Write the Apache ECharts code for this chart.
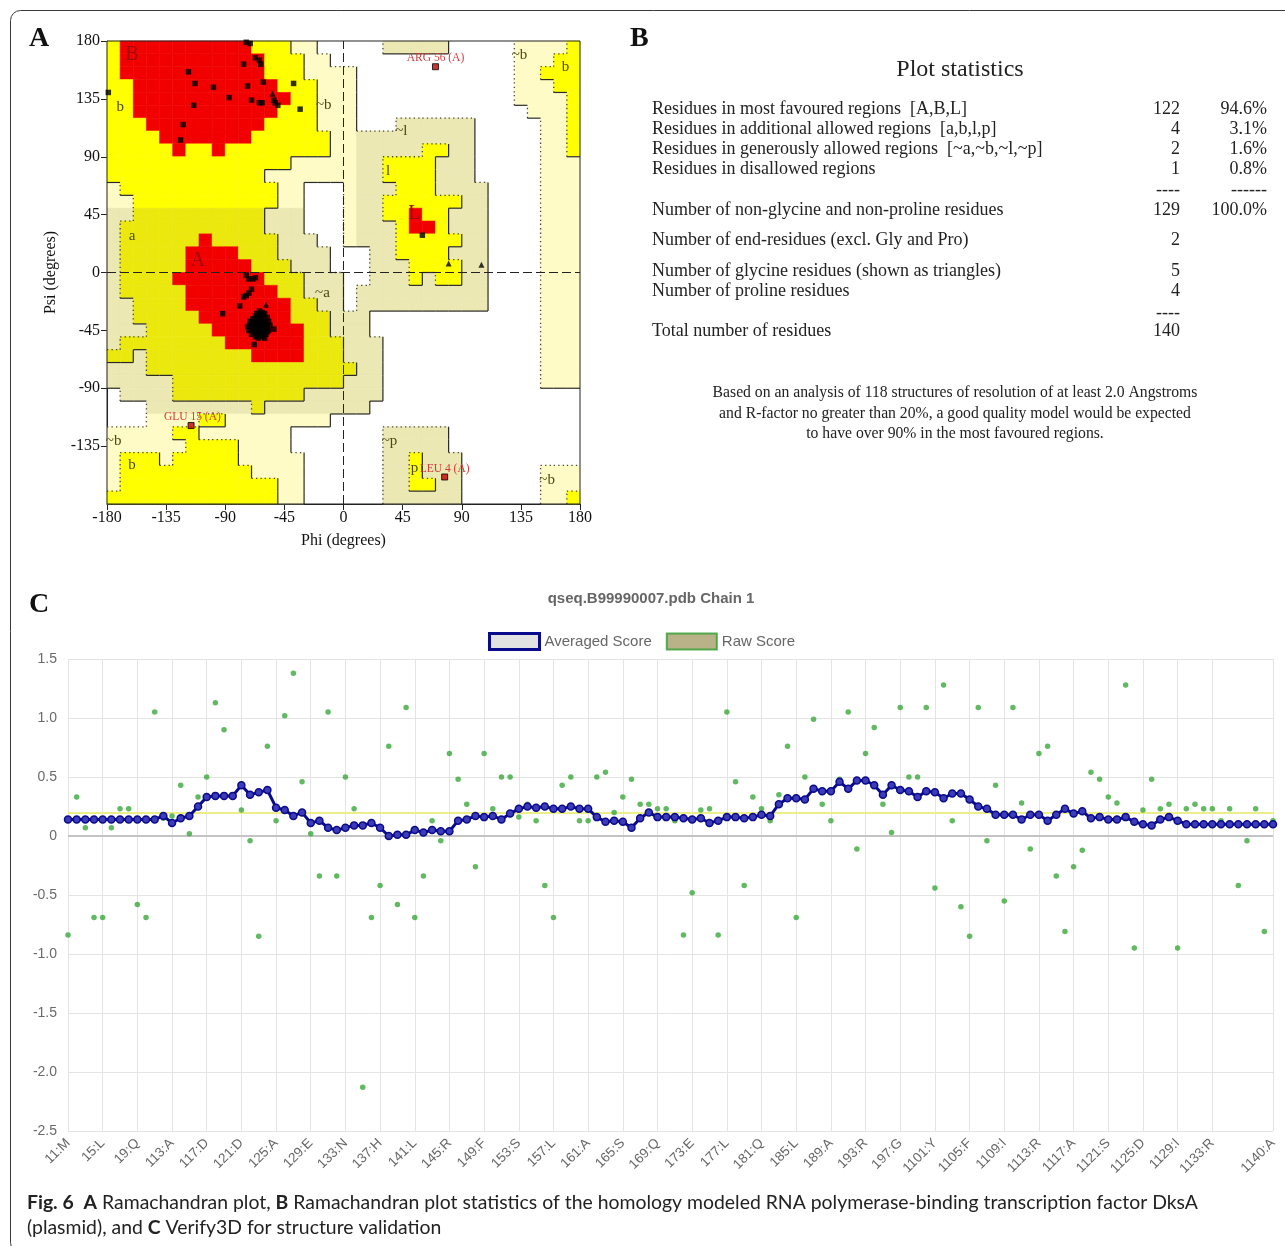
<!DOCTYPE html>
<html>
<head>
<meta charset="utf-8">
<title>Ramachandran plot and Verify3D profile</title>
<script src="https://cdn.jsdelivr.net/npm/echarts/dist/echarts.min.js"></script>
<style>
  html, body { margin: 0; padding: 0; background: #ffffff; }
  #main { width: 1285px; height: 1246px; }
</style>
</head>
<body>
<div id="main"></div>
<script>
// ---------------- Panel A: Ramachandran plot ----------------
// Region map, 10-degree cells. Row 0 is psi 170..180, column 0 is phi -180..-170.
// R = most favoured, Y/y = additional allowed, C/H = generously allowed, W = disallowed
const ramaRegionRows = [
  "YRRRRRRRRRRYYYCCWWWWWHHHHHWWWWWCCCCY",
  "YRRRRRRRRRRRYYYCCWWWWWWWWWWWWWWCCCYY",
  "YRRRRRRRRRRRYYYCCCCWWWWWWWWWWWWCCYYY",
  "YYRRRRRRRRRRRYYYCCCWWWWWWWWWWWWCCCYY",
  "YYRRRRRRRRRRRRYYCCCWWWWWWWWWWWWCCCCY",
  "YYRRRRRRRRRRRYYYCCCWWWWWWWWWWWWWCCCY",
  "YYYRRRRRRRRRYYYYCCCWWWHHHHHHWWWWWCCY",
  "YYYYRRRRRRRYYYYYYCCHHHHHHHHHWWWWWCCY",
  "YYYYYRYYRYYYYYYYYCCHHHHHYYHHWWWWWCCY",
  "YYYYYYYYYYYYYYCCCCCHHYYYYHHHWWWWWCCC",
  "YYYYYYYYYYYYCCCCCCCHHYYYYHHHWWWWWCCC",
  "CYYYYYYYYYYYYCCWWWCHHHYYYHHHHWWWWCCC",
  "CCYYYYYYYYYYYCCWWWCHHYYYYYYHHWWWWCCC",
  "HHyyyyyyyyyyHHHWWWCHHYYRYYHHHWWWWCCC",
  "HyyyyyyyyyyyHHHWWWCHHHYRRYHHHWWWWCCC",
  "HyyyyyyRyyyyyHHHWWCHHHYYYYYHHWWWWCCC",
  "HyyyyyRRRRyyyHHHHWWWHHYYYYHHHWWWWCCC",
  "HyyyyyRRRRRyyyHHHWWWHHHYYYYHHWWWWCCC",
  "HyyyyRRRRRRRyyyHHHWWHHHYHYYHHWWWWCCC",
  "HyyyyyRRRRRRRyyHHHWHHHHHHHHHHWWWWCCC",
  "HHyyyyRRRRRRRRyyHHWHHHHHHHHHHWWWWCCC",
  "HHyyyyyRRRRRRRyyyHHHWWWWWWWWWWWWWCCC",
  "HHHyyyyyRRRRRRRyyHHHWWWWWWWWWWWWWCCC",
  "HyyyyyyyyRRRRRRyyyHHHWWWWWWWWWWWWCCC",
  "yyHyyyyyyyyRRRRyyyHHHWWWWWWWWWWWWCCC",
  "HHHyyyyyyyyyyyyyyyyHHWWWWWWWWWWWWCCC",
  "HHHHHyyyyyyyyyyyyyHHHWWWWWWWWWWWWCCC",
  "WHHHHyyyyyyyyyyHHHHHHWWWWWWWWWWWWWWW",
  "WWWHHHHHHHHyHHHHHHHHWWWWWWWWWWWWWWWW",
  "WWWCCCCYYCCCCCCCCWWWWWWWWWWWWWWWWWWW",
  "CCCCCYYCCCCCCCWWWWWWWHHHHHWWWWWWWWWW",
  "CCCCCCYYYYCCCCWWWWWWWHHHHHWWWWWWWWWW",
  "CYYYCYYYYYCCCCCWWWWWWHHYHHHWWWWWWWWW",
  "CYYYYYYYYYYCCCCWWWWWWHHYHHHWWWWWWCCC",
  "CYYYYYYYYYYYYCCWWWWWWHHYYHHWWWWWWCCC",
  "YYYYYYYYYYYYYCCWWWWWWHHHHHHWWWWWWCCY"
];
const regionCodes = "RYyCH";
const regionFill = ["#f20000", "#ffff00", "#ebe80e", "#fffbc6", "#ebe8b3"];
const regionLevel = { R: 3, Y: 2, y: 2, C: 1, H: 1, W: 0 };

// Residues (phi, psi) plotted as squares
const residuePoints = [
  [-74, 179], [-71, 178], [-67, 167], [-64, 165], [-63, 162], [-76, 162],
  [-118, 156], [-113, 147], [-99, 144], [-73, 145], [-61, 148], [-38, 147],
  [-179, 140], [-87, 136], [-70, 134], [-64, 132], [-62, 132], [-53, 134],
  [-52, 132], [-50, 130], [-33, 127], [-114, 130], [-122, 115], [-124, 103],
  [-74, -2], [-72, -5], [-69, -5], [-67, -4], [-70, -13], [-72, -16],
  [-74, -18], [-76, -19], [-79, -26], [-92, -32], [-53, -44], [-68, -56],
  [-64, -30], [-62, -31], [-66, -32], [-60, -32], [-63, -33], [-67, -34],
  [-61, -34], [-65, -35], [-58, -35], [-69, -36], [-63, -36], [-60, -37],
  [-66, -37], [-71, -38], [-57, -38], [-64, -38], [-68, -39], [-62, -39],
  [-59, -40], [-65, -40], [-70, -41], [-67, -41], [-61, -41], [-56, -41],
  [-73, -42], [-64, -42], [-58, -42], [-66, -43], [-62, -43], [-69, -44],
  [-60, -44], [-72, -45], [-65, -45], [-57, -45], [-63, -46], [-68, -46],
  [-61, -47], [-66, -47], [-70, -48], [-59, -48], [-64, -49], [-67, -50],
  [-62, -50], [-65, -51], [-60, -51], [-63, -40], [-66, -39], [-60, -39],
  [-68, -42], [-59, -43], [-65, -43], [-62, -45], [-67, -44], [-70, -43],
  [-63, -44], [-61, -36], [-64, -34], [-67, -36], [-62, -48], [-66, -49],
  [-58, -46], [-71, -40],
  [60, 29]
];
// Glycine residues (triangles)
const glycinePoints = [[-54, 139], [-59, -25], [80, 7], [105, 6]];
// Residues outside the allowed regions, labelled on the plot
const flaggedNames = ["ARG 56 (A)", "GLU 15 (A)", "LEU 4 (A)"];
const flaggedPhi = [70, -116, 77];
const flaggedPsi = [160, -119, -159];
const flaggedLabelPos = [[70, 167], [-115, -112], [77, -153]];

// Region letters
const regionLabelText = ["B", "b", "~b", "~l", "l", "L", "A", "a", "~a", "~b", "b", "~p", "p", "~b", "~b", "b"];
const regionLabelPos = [
  [-161, 169], [-170, 129], [-15, 130], [44, 110], [34, 79], [54, 46],
  [-111, 9], [-161, 28], [-16, -16], [-175, -131], [-161, -150],
  [35, -131], [54, -152], [155, -161], [134, 169], [169, 160]
];
const regionLabelMajor = ["B", "A", "L"];

// ---------------- Panel C: Verify3D profile ----------------
const residueNumbers = [];
for (let i = 1; i <= 140; i++) residueNumbers.push(String(i));
const tickResidues = [1, 5, 9, 13, 17, 21, 25, 29, 33, 37, 41, 45, 49, 53, 57, 61, 65, 69, 73, 77,
  81, 85, 89, 93, 97, 101, 105, 109, 113, 117, 121, 125, 129, 133, 140];
const tickNames = ["11:M", "15:L", "19:Q", "113:A", "117:D", "121:D", "125:A", "129:E", "133:N",
  "137:H", "141:L", "145:R", "149:F", "153:S", "157:L", "161:A", "165:S", "169:Q", "173:E",
  "177:L", "181:Q", "185:L", "189:A", "193:R", "197:G", "1101:Y", "1105:F", "1109:I", "1113:R",
  "1117:A", "1121:S", "1125:D", "1129:I", "1133:R", "1140:A"];
const rawScore = [
  -0.84, 0.33, 0.07, -0.69, -0.69, 0.07, 0.23, 0.23, -0.58, -0.69,
  1.05, 0.15, 0.17, 0.43, 0.02, 0.33, 0.50, 1.13, 0.90, 0.35,
  0.22, -0.04, -0.85, 0.76, 0.13, 1.02, 1.38, 0.46, 0.02, -0.34,
  1.05, -0.34, 0.50, 0.23, -2.13, -0.69, -0.42, 0.76, -0.58, 1.09,
  -0.69, -0.34, 0.13, -0.04, 0.70, 0.48, 0.27, -0.26, 0.70, 0.23,
  0.50, 0.50, 0.16, 0.27, 0.13, -0.42, -0.69, 0.43, 0.50, 0.13,
  0.13, 0.50, 0.54, 0.20, 0.33, 0.48, 0.27, 0.27, 0.23, 0.23,
  0.13, -0.84, -0.48, 0.22, 0.23, -0.84, 1.05, 0.46, -0.42, 0.33,
  0.23, 0.13, 0.35, 0.76, -0.69, 0.50, 0.99, 0.27, 0.13, 0.48,
  1.05, -0.11, 0.70, 0.92, 0.27, 0.03, 1.09, 0.50, 0.50, 1.09,
  -0.44, 1.28, 0.13, -0.60, -0.85, 1.09, -0.04, 0.43, -0.55, 1.09,
  0.28, -0.11, 0.70, 0.76, -0.34, -0.81, -0.26, -0.12, 0.54, 0.48,
  0.33, 0.28, 1.28, -0.95, 0.22, 0.48, 0.23, 0.27, -0.95, 0.23,
  0.27, 0.23, 0.23, 0.13, 0.23, -0.42, -0.04, 0.23, -0.81, 0.13
];
const averagedScore = [
  0.14, 0.14, 0.14, 0.14, 0.14, 0.14, 0.14, 0.14, 0.14, 0.14,
  0.14, 0.17, 0.11, 0.15, 0.17, 0.25, 0.33, 0.34, 0.34, 0.34,
  0.43, 0.35, 0.37, 0.39, 0.24, 0.22, 0.17, 0.20, 0.11, 0.13,
  0.07, 0.05, 0.07, 0.09, 0.09, 0.11, 0.07, 0.00, 0.01, 0.01,
  0.05, 0.03, 0.05, 0.04, 0.04, 0.13, 0.14, 0.17, 0.16, 0.17,
  0.14, 0.19, 0.23, 0.25, 0.24, 0.25, 0.23, 0.23, 0.25, 0.23,
  0.23, 0.16, 0.12, 0.13, 0.12, 0.07, 0.15, 0.20, 0.16, 0.16,
  0.16, 0.15, 0.14, 0.15, 0.11, 0.13, 0.16, 0.16, 0.15, 0.16,
  0.18, 0.17, 0.27, 0.32, 0.32, 0.31, 0.40, 0.38, 0.38, 0.46,
  0.40, 0.47, 0.47, 0.43, 0.35, 0.43, 0.39, 0.38, 0.33, 0.38,
  0.37, 0.32, 0.36, 0.36, 0.31, 0.25, 0.23, 0.18, 0.18, 0.18,
  0.14, 0.18, 0.18, 0.13, 0.18, 0.23, 0.19, 0.21, 0.15, 0.16,
  0.14, 0.14, 0.16, 0.12, 0.10, 0.09, 0.14, 0.16, 0.13, 0.10,
  0.10, 0.10, 0.10, 0.10, 0.10, 0.10, 0.10, 0.10, 0.10, 0.10
];
const qualityThreshold = 0.2;

// ---------------- Derived series data ----------------
const regionCells = [];
const regionEdges = [];
ramaRegionRows.forEach((row, r) => {
  for (let c = 0; c < 36; c++) {
    const code = row[c];
    const a = regionLevel[code];
    if (code !== "W") regionCells.push([-180 + 10 * c, 170 - 10 * r, regionCodes.indexOf(code)]);
    if (c < 35) {
      const b = regionLevel[row[c + 1]];
      if (a !== b && Math.min(a, b) < 2) {
        const x = -170 + 10 * c;
        regionEdges.push([x, 170 - 10 * r, x, 180 - 10 * r, a > b ? 0 : 1]);
      }
    }
    if (r < 35) {
      const b = regionLevel[ramaRegionRows[r + 1][c]];
      if (a !== b && Math.min(a, b) < 2) {
        const y = 170 - 10 * r;
        regionEdges.push([-180 + 10 * c, y, -170 + 10 * c, y, a > b ? 0 : 1]);
      }
    }
  }
});
const flaggedPoints = flaggedPhi.map((p, i) => [p, flaggedPsi[i]]);
const tickIndexSet = new Set(tickResidues.map(r => r - 1));
const tickNameOf = {};
tickResidues.forEach((r, i) => { tickNameOf[String(r)] = tickNames[i]; });

const serif = "'Liberation Serif', 'DejaVu Serif', serif";
const sans = "'Liberation Sans', Arial, sans-serif";
const captionFamily = "Lato, 'Open Sans', sans-serif";

// ---------------- Panel B: statistics table ----------------
const statRows = [
  ["Residues in most favoured regions  [A,B,L]", "122", "94.6%", 109],
  ["Residues in additional allowed regions  [a,b,l,p]", "4", "3.1%", 129],
  ["Residues in generously allowed regions  [~a,~b,~l,~p]", "2", "1.6%", 149],
  ["Residues in disallowed regions", "1", "0.8%", 169],
  ["", "----", "------", 190],
  ["Number of non-glycine and non-proline residues", "129", "100.0%", 210],
  ["Number of end-residues (excl. Gly and Pro)", "2", "", 240],
  ["Number of glycine residues (shown as triangles)", "5", "", 271],
  ["Number of proline residues", "4", "", 291],
  ["", "----", "", 313],
  ["Total number of residues", "140", "", 331]
];
const statNote = [
  "Based on an analysis of 118 structures of resolution of at least 2.0 Angstroms",
  "and R-factor no greater than 20%, a good quality model would be expected",
  "to have over 90% in the most favoured regions."
];

const captionRich = { b: { fontFamily: captionFamily, fontSize: 19.4, fontWeight: "bold", fill: "#222" } };
const graphics = [
  { type: "rect", z: 0, shape: { x: 10.5, y: 10.5, width: 1300, height: 1242, r: 10 },
    style: { fill: "none", stroke: "#3a3a3a", lineWidth: 1 } },
  { type: "text", x: 29, y: 39, style: { text: "A", font: "bold 28px " + serif, fill: "#111", textVerticalAlign: "middle" } },
  { type: "text", x: 630, y: 39, style: { text: "B", font: "bold 28px " + serif, fill: "#111", textVerticalAlign: "middle" } },
  { type: "text", x: 29, y: 605, style: { text: "C", font: "bold 28px " + serif, fill: "#111", textVerticalAlign: "middle" } },
  { type: "text", x: 960, y: 70, style: { text: "Plot statistics", font: "24px " + serif, fill: "#222", textAlign: "center", textVerticalAlign: "middle" } },
  { type: "text", x: 651, y: 599, style: { text: "qseq.B99990007.pdb Chain 1", font: "bold 15px " + sans, fill: "#666", textAlign: "center", textVerticalAlign: "middle" } },
  { type: "text", x: 27, y: 1203, style: {
      text: "{b|Fig. 6}  {b|A} Ramachandran plot, {b|B} Ramachandran plot statistics of the homology modeled RNA polymerase-binding transcription factor DksA",
      fontFamily: captionFamily, fontSize: 19.4, fill: "#222", textVerticalAlign: "middle", rich: captionRich } },
  { type: "text", x: 27, y: 1228, style: {
      text: "(plasmid), and {b|C} Verify3D for structure validation",
      fontFamily: captionFamily, fontSize: 19.4, fill: "#222", textVerticalAlign: "middle", rich: captionRich } }
];
statRows.forEach(row => {
  const [label, count, pct, y] = row;
  if (label) graphics.push({ type: "text", x: 652, y: y, style: { text: label, font: "18px " + serif, fill: "#222", textVerticalAlign: "middle" } });
  if (count) graphics.push({ type: "text", x: 1180, y: y, style: { text: count, font: "18px " + serif, fill: "#222", textAlign: "right", textVerticalAlign: "middle" } });
  if (pct) graphics.push({ type: "text", x: 1267, y: y, style: { text: pct, font: "18px " + serif, fill: "#222", textAlign: "right", textVerticalAlign: "middle" } });
});
statNote.forEach((line, i) => {
  graphics.push({ type: "text", x: 955, y: 393 + i * 20.5, style: { text: line, font: "15.7px " + serif, fill: "#222", textAlign: "center", textVerticalAlign: "middle" } });
});

// ---------------- Chart ----------------
const chart = echarts.init(document.getElementById("main"), null, { renderer: "canvas" });

const ramaAxisLabel = { fontFamily: serif, fontSize: 16, color: "#111" };
const option = {
  animation: false,
  backgroundColor: "#ffffff",
  graphic: graphics,
  legend: {
    top: 627, left: 483,
    itemWidth: 50, itemHeight: 16, itemGap: 14,
    textStyle: { color: "#666", fontSize: 15, fontFamily: sans },
    data: [
      { name: "Averaged Score", icon: "rect", itemStyle: { color: "#e2e2e2", borderColor: "#0a0a8c", borderWidth: 3 } },
      { name: "Raw Score", icon: "rect", itemStyle: { color: "#a79f6c", borderColor: "#2f9e2f", borderWidth: 2 } }
    ],
    selectedMode: false
  },
  grid: [
    { left: 107, top: 41, width: 473, height: 463 },
    { left: 68, top: 659, width: 1205, height: 472 }
  ],
  xAxis: [
    {
      gridIndex: 0, type: "value", min: -180, max: 180, interval: 45,
      name: "Phi (degrees)", nameLocation: "middle", nameGap: 29,
      nameTextStyle: { fontFamily: serif, fontSize: 16, color: "#111" },
      axisLine: { show: true, onZero: false, lineStyle: { color: "#222", width: 1 } },
      axisTick: { show: true, inside: false, length: 6, lineStyle: { color: "#222" } },
      axisLabel: Object.assign({ margin: 6 }, ramaAxisLabel),
      splitLine: { show: false }
    },
    {
      gridIndex: 1, type: "category", data: residueNumbers, boundaryGap: false,
      axisLine: { show: true, lineStyle: { color: "#e2e2e2" } },
      axisTick: { show: true, length: 6, interval: (i) => tickIndexSet.has(i), lineStyle: { color: "#e2e2e2" } },
      axisLabel: {
        interval: (i) => tickIndexSet.has(i), rotate: 45, margin: 10,
        color: "#666", fontSize: 13.5, fontFamily: sans,
        formatter: (v) => tickNameOf[v] || ""
      },
      splitLine: { show: true, interval: (i) => tickIndexSet.has(i), lineStyle: { color: "#e4e4e4", width: 1 } }
    }
  ],
  yAxis: [
    {
      gridIndex: 0, type: "value", min: -180, max: 180, interval: 45,
      name: "Psi (degrees)", nameLocation: "middle", nameGap: 48,
      nameTextStyle: { fontFamily: serif, fontSize: 16, color: "#111" },
      axisLine: { show: true, onZero: false, lineStyle: { color: "#222", width: 1 } },
      axisTick: { show: true, inside: false, length: 6, lineStyle: { color: "#222" } },
      axisLabel: Object.assign({ margin: 7, showMinLabel: false }, ramaAxisLabel),
      splitLine: { show: false }
    },
    {
      gridIndex: 1, type: "value", min: -2.5, max: 1.5, interval: 0.5,
      axisLine: { show: false },
      axisTick: { show: false },
      axisLabel: { color: "#6a6a6a", fontSize: 14, fontFamily: sans, margin: 11,
        formatter: (v) => (Math.abs(v) < 1e-9 ? "0" : v.toFixed(1)) },
      splitLine: { show: true, lineStyle: { color: "#e4e4e4", width: 1 } }
    }
  ],
  series: [
    // region cells
    {
      type: "custom", name: "regions", xAxisIndex: 0, yAxisIndex: 0, z: 1, silent: true,
      data: regionCells,
      renderItem: (params, api) => {
        const p1 = api.coord([api.value(0), api.value(1) + 10]);
        const p2 = api.coord([api.value(0) + 10, api.value(1)]);
        const fill = regionFill[api.value(2)];
        return { type: "rect",
          shape: { x: p1[0], y: p1[1], width: p2[0] - p1[0], height: p2[1] - p1[1] },
          style: { fill: fill, stroke: fill, lineWidth: 0.6 } };
      }
    },
    // region boundary lines
    {
      type: "custom", name: "boundaries", xAxisIndex: 0, yAxisIndex: 0, z: 2, silent: true,
      data: regionEdges,
      renderItem: (params, api) => {
        const a = api.coord([api.value(0), api.value(1)]);
        const b = api.coord([api.value(2), api.value(3)]);
        const dotted = api.value(4) === 1;
        return { type: "line",
          shape: { x1: a[0], y1: a[1], x2: b[0], y2: b[1] },
          style: dotted ? { stroke: "#444", lineWidth: 1.3, lineDash: [1.3, 3.2] }
                        : { stroke: "#2a2a2a", lineWidth: 1.2 } };
      }
    },
    // plot frame
    {
      type: "custom", name: "frame", xAxisIndex: 0, yAxisIndex: 0, z: 3, silent: true,
      data: [[-180, 180, 180, -180]],
      renderItem: (params, api) => {
        const a = api.coord([api.value(0), api.value(1)]);
        const b = api.coord([api.value(2), api.value(3)]);
        return { type: "rect", shape: { x: a[0], y: a[1], width: b[0] - a[0], height: b[1] - a[1] },
          style: { fill: "none", stroke: "#222", lineWidth: 1 } };
      }
    },
    // region letters and flagged residue names
    {
      type: "custom", name: "regionLabels", xAxisIndex: 0, yAxisIndex: 0, z: 4, silent: true,
      data: regionLabelPos,
      renderItem: (params, api) => {
        const p = api.coord([api.value(0), api.value(1)]);
        const t = regionLabelText[params.dataIndex];
        const major = regionLabelMajor.indexOf(t) >= 0;
        return { type: "text", x: p[0], y: p[1],
          style: { text: t, font: (major ? "20px " : "15px ") + serif,
            fill: major ? "#a00808" : "#4a4a10", textAlign: "center", textVerticalAlign: "middle" } };
      }
    },
    {
      type: "custom", name: "flaggedLabels", xAxisIndex: 0, yAxisIndex: 0, z: 4, silent: true,
      data: flaggedLabelPos,
      renderItem: (params, api) => {
        const p = api.coord([api.value(0), api.value(1)]);
        return { type: "text", x: p[0], y: p[1],
          style: { text: flaggedNames[params.dataIndex], font: "11.5px " + serif,
            fill: "#d23a3a", textAlign: "center", textVerticalAlign: "middle" } };
      }
    },
    {
      type: "scatter", name: "residues", xAxisIndex: 0, yAxisIndex: 0, z: 5, silent: true,
      symbol: "rect", symbolSize: 5.5,
      itemStyle: { color: "#000" },
      data: residuePoints,
      markLine: {
        silent: true, symbol: ["none", "none"], label: { show: false },
        lineStyle: { color: "#222", width: 1, type: [9, 4] },
        data: [{ xAxis: 0 }, { yAxis: 0 }]
      }
    },
    {
      type: "scatter", name: "glycine", xAxisIndex: 0, yAxisIndex: 0, z: 6, silent: true,
      symbol: "triangle", symbolSize: 6,
      itemStyle: { color: "#000" },
      data: glycinePoints
    },
    {
      type: "scatter", name: "flagged", xAxisIndex: 0, yAxisIndex: 0, z: 6, silent: true,
      symbol: "rect", symbolSize: 6,
      itemStyle: { color: "#c00000", borderColor: "#000", borderWidth: 1 },
      data: flaggedPoints
    },
    // Verify3D
    {
      type: "scatter", name: "Raw Score", xAxisIndex: 1, yAxisIndex: 1, z: 5,
      symbol: "circle", symbolSize: 5.5,
      itemStyle: { color: "#3aa83a" },
      data: rawScore,
      markLine: {
        silent: true, symbol: ["none", "none"], label: { show: false },
        data: [
          { yAxis: 0, lineStyle: { color: "#c4c4c4", width: 2, type: "solid" } },
          { yAxis: qualityThreshold, lineStyle: { color: "#eeee88", width: 2, type: "solid" } }
        ]
      }
    },
    {
      type: "line", name: "Averaged Score", xAxisIndex: 1, yAxisIndex: 1, z: 6,
      symbol: "circle", symbolSize: 7, showAllSymbol: true,
      lineStyle: { color: "#0a0a8c", width: 3 },
      itemStyle: { color: "#3c3cb8", borderColor: "#0a0a8c", borderWidth: 1.5 },
      data: averagedScore
    }
  ]
};
chart.setOption(option);
</script>
</body>
</html>
